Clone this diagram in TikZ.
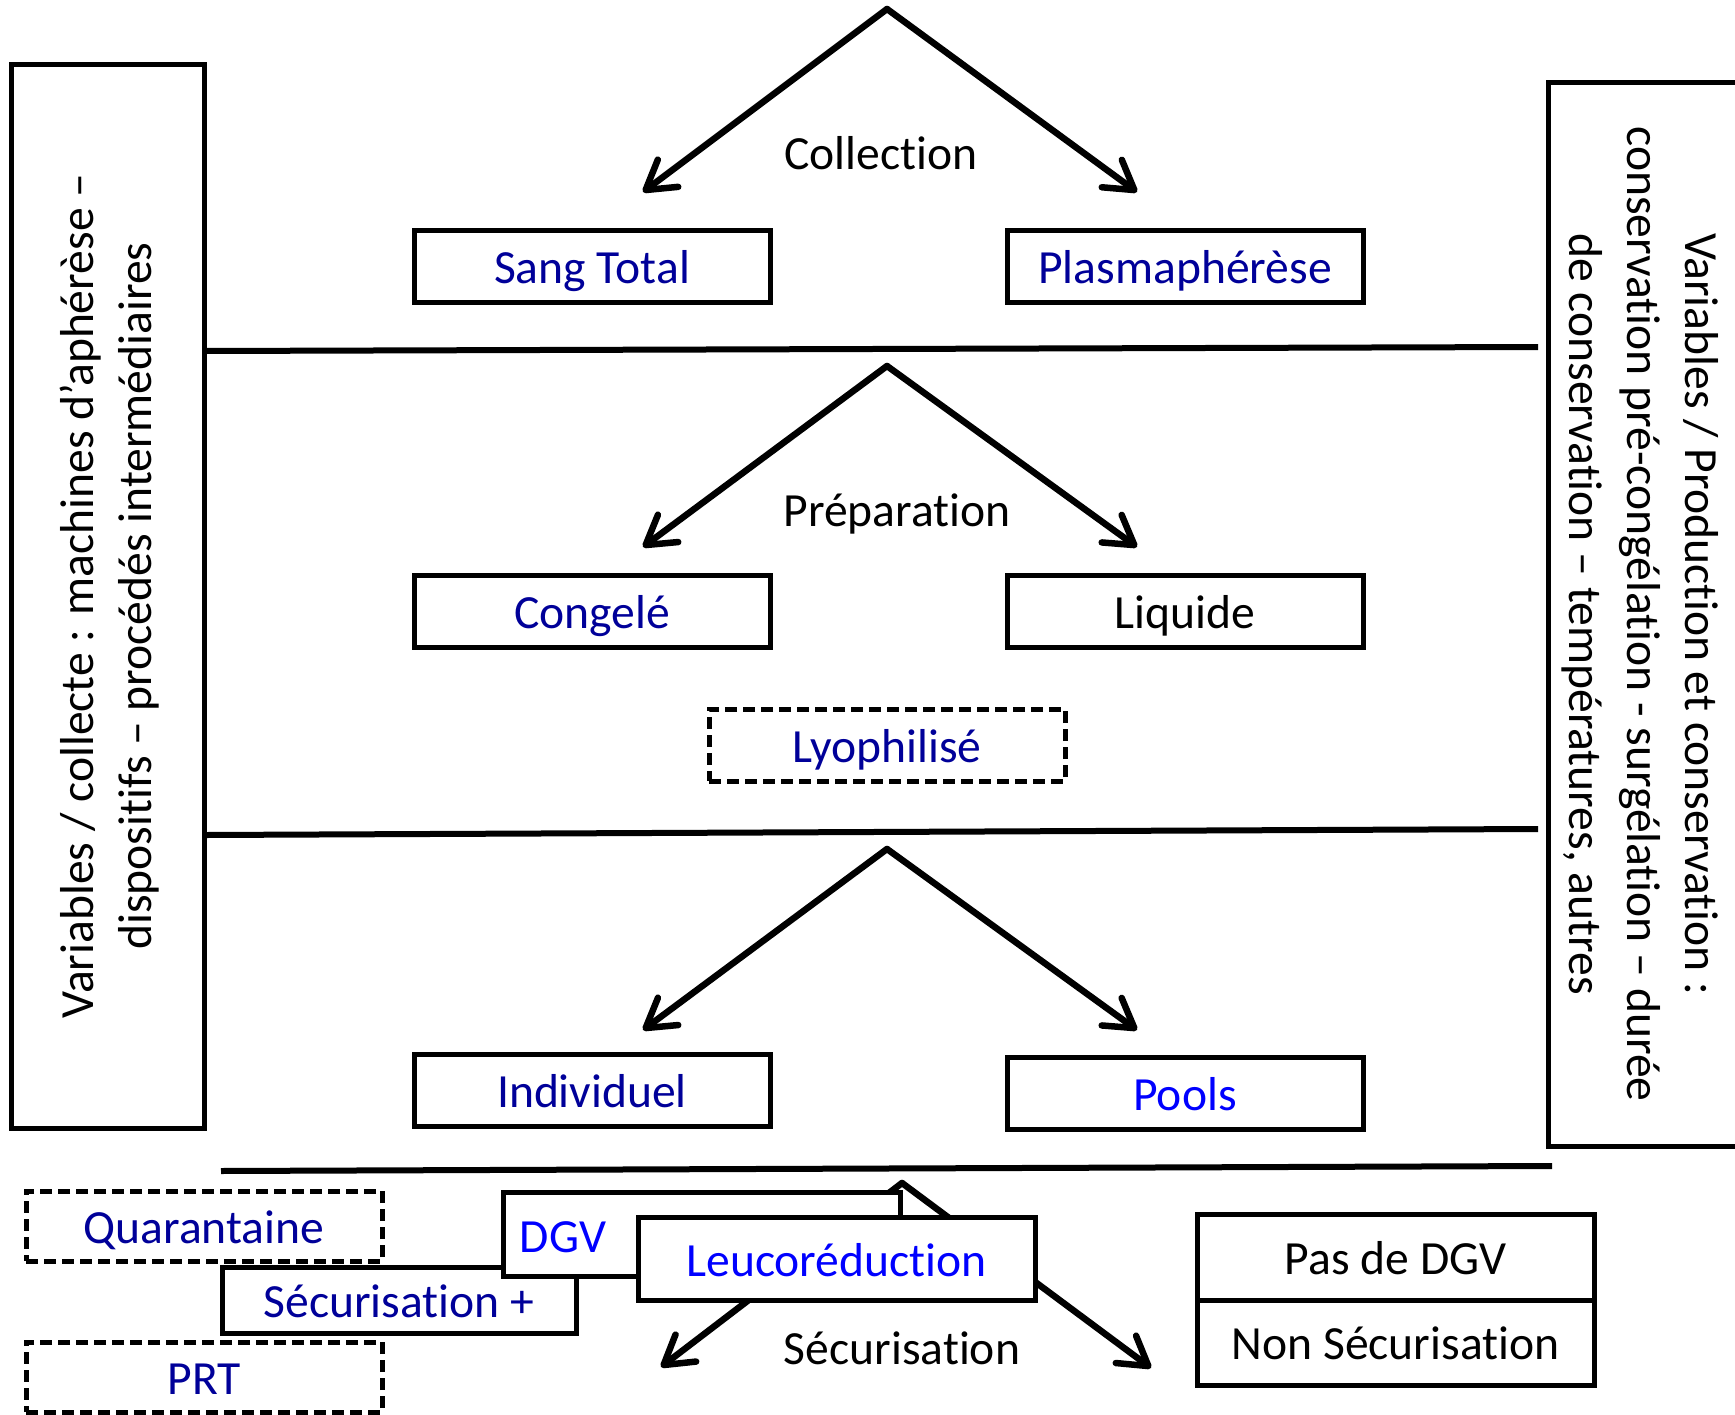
\documentclass[tikz,border=0pt]{standalone}
\usepackage{fontspec}
\setmainfont[Ligatures={NoCommon}]{Carlito}
\usetikzlibrary{arrows.meta}
\definecolor{navy}{RGB}{0,0,153}
\definecolor{brightblue}{RGB}{0,0,255}

\begin{document}
\begin{tikzpicture}[x=1pt,y=-1pt,
  every node/.style={font=\fontsize{47.6}{58}\selectfont},
  box/.style={draw, line width=5pt, fill=white, minimum width=356pt, minimum height=72pt,
    inner sep=0pt, text height=34pt, text depth=0pt},
  dbox/.style={box, dash pattern=on 12pt off 6pt},
  widebox/.style={box, minimum width=397pt, minimum height=84pt},
  panel/.style={draw, line width=5pt, minimum height=1063pt},
  rule/.style={line width=6pt},
  branch/.style={line width=6.5pt, line cap=round,
    -{Straight Barb[length=28pt,width=34pt,line cap=round,line join=round]}},
  label/.style={inner sep=0pt, text height=34pt, text depth=0pt}
]
\useasboundingbox (0,0) rectangle (1735,1415);

% side panels
\node[panel, minimum width=193pt] (lpanel) at (107.5,596.5) {};
\node[rotate=90, align=center, inner sep=0pt] (ltext) at (110,596)
  {Variables / collecte : machines d’aphérèse –\\dispositifs – procédés intermédiaires};
\node[panel, minimum width=230pt] (rpanel) at (1663,614.5) {};
\node[rotate=-90, align=center, inner sep=0pt] (rtext) at (1640,614)
  {Variables / Production et conservation :\\conservation pré-congélation - surgélation – durée\\de conservation – températures, autres};

% separating rules
\coordinate (r1a) at (207,351); \coordinate (r1b) at (1538,347);
\coordinate (r2a) at (207,835); \coordinate (r2b) at (1538,829);
\coordinate (r3a) at (221,1171); \coordinate (r3b) at (1552,1166);
\draw[rule] (r1a) -- (r1b);
\draw[rule] (r2a) -- (r2b);
\draw[rule] (r3a) -- (r3b);

% stage 1: collection
\coordinate (top1) at (887,9);
\coordinate (l1) at (643,192); \coordinate (rr1) at (1137,192);
\draw[branch] (top1) -- (l1);
\draw[branch] (top1) -- (rr1);
\node[label] (collection) at (881,153) {Collection};
\node[box, text=navy] (sang) at (592,267) {Sang Total};
\node[box, text=navy] (plasma) at (1185,267) {Plasmaphérèse};

% stage 2: preparation
\coordinate (top2) at (887,366);
\coordinate (l2) at (643,547); \coordinate (rr2) at (1137,547);
\draw[branch] (top2) -- (l2);
\draw[branch] (top2) -- (rr2);
\node[label] (prep) at (897,509) {Préparation};
\node[box, text=navy] (congele) at (592,611) {Congelé};
\node[box] (liquide) at (1185,611) {Liquide};
\node[dbox, text=navy] (lyo) at (887,745) {Lyophilisé};

% stage 3: individual or pooled
\coordinate (top3) at (887,849);
\coordinate (l3) at (643,1030); \coordinate (rr3) at (1137,1030);
\draw[branch] (top3) -- (l3);
\draw[branch] (top3) -- (rr3);
\node[box, text=navy] (indiv) at (592,1090) {Individuel};
\node[box, text=brightblue] (pools) at (1185,1093) {Pools};

% stage 4: securisation
\coordinate (top4) at (902,1183);
\coordinate (l4) at (661,1367); \coordinate (rr4) at (1151,1368);
\draw[branch] (top4) -- (l4);
\draw[branch] (top4) -- (rr4);
\node[label] (secu) at (902,1347) {Sécurisation};

\node[box, minimum width=354pt, minimum height=66pt, text=navy] (secplus) at (399,1300) {Sécurisation +};
\node[dbox, minimum height=70pt, text=navy] (quar) at (204,1226) {Quarantaine};
\node[dbox, minimum height=70pt, text=navy] (prt) at (204,1377) {PRT};
\node[widebox] (dgv) at (701.5,1234) {};
\node[label, text=brightblue] (dgvtext) at (563,1235) {DGV};
\node[widebox, minimum height=83pt, text=brightblue] (leuco) at (836.5,1259) {Leucoréduction};

\node[widebox, minimum height=86pt] (pasdgv) at (1395.5,1257) {Pas de DGV};
\node[widebox, minimum height=85pt] (nonsec) at (1395.5,1342.5) {Non Sécurisation};
\end{tikzpicture}
\end{document}
